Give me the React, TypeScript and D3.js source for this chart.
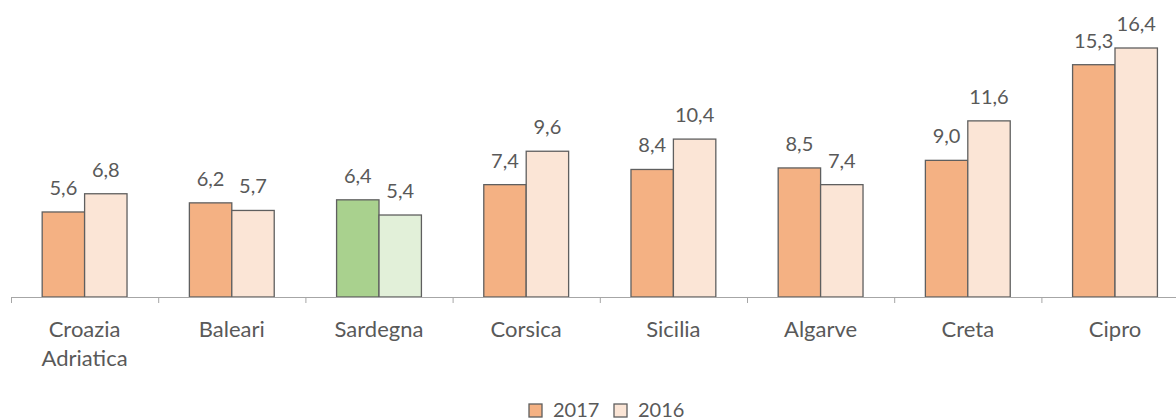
import React from "react";
import * as d3 from "d3";

const categories = ["Croazia\nAdriatica", "Baleari", "Sardegna", "Corsica", "Sicilia", "Algarve", "Creta", "Cipro"];
const series = ["2017", "2016"];
const values2017 = [5.6, 6.2, 6.4, 7.4, 8.4, 8.5, 9.0, 15.3];
const values2016 = [6.8, 5.7, 5.4, 9.6, 10.4, 7.4, 11.6, 16.4];
const highlight = "Sardegna";

const W = 1176;
const H = 420;
const FONT = "Lato, 'Open Sans', sans-serif";
const TEXT = "#595959";
const colors: Record<string, string> = { "2017": "#F4B183", "2016": "#FBE5D6" };
const hlColors: Record<string, string> = { "2017": "#A9D18E", "2016": "#E2F0D9" };

export default function App() {
  const baseY = 297;
  const step = 147.2;
  const x0 = d3.scaleBand<string>().domain(categories).range([11, 11 + step * categories.length]).padding(0);
  const x1 = d3.scaleBand<string>().domain(series).range([0, x0.bandwidth()]).paddingInner(0).paddingOuter(0.735);
  const y = d3.scaleLinear().domain([0, 16.4]).range([baseY, 48]);
  const fmt = (v: number) => v.toFixed(1).replace(".", ",");
  const data = categories.map((c, i) => ({ c, vals: [values2017[i], values2016[i]] }));

  return (
    <svg width={W} height={H} style={{ position: "absolute", left: 0, top: 0, background: "#fff" }} fontFamily={FONT}>
      {data.map((d) => (
        <g key={d.c} transform={`translate(${x0(d.c)},0)`}>
          {series.map((s, j) => {
            const v = d.vals[j];
            const bx = x1(s)!;
            const fill = d.c === highlight ? hlColors[s] : colors[s];
            return (
              <g key={s}>
                <rect x={bx} y={y(v)} width={x1.bandwidth()} height={baseY - y(v)} fill={fill} stroke="#5f5f5f" strokeWidth={1.3} />
                <text x={bx + x1.bandwidth() / 2} y={y(v) - 17} textAnchor="middle" fontSize={20} fill={TEXT}>
                  {fmt(v)}
                </text>
              </g>
            );
          })}
          <text x={x0.bandwidth() / 2} y={337} textAnchor="middle" fontSize={22} fill={TEXT}>
            {d.c.split("\n").map((line, k) => (
              <tspan key={k} x={x0.bandwidth() / 2} dy={k === 0 ? 0 : 29}>
                {line}
              </tspan>
            ))}
          </text>
        </g>
      ))}
      <line x1={11} x2={W} y1={baseY + 0.5} y2={baseY + 0.5} stroke="#a6a6a6" strokeWidth={1} />
      {categories.map((c) => (
        <line key={c} x1={x0(c)! + 0.5} x2={x0(c)! + 0.5} y1={baseY} y2={baseY + 6} stroke="#a6a6a6" strokeWidth={1} />
      ))}
      <g>
        {series.map((s, i) => (
          <g key={s} transform={`translate(${529 + i * 85},404)`}>
            <rect x={0} y={0} width={13} height={13} fill={colors[s]} stroke="#5f5f5f" strokeWidth={1.3} />
            <text x={24} y={13} fontSize={20} fill={TEXT}>{s}</text>
          </g>
        ))}
      </g>
    </svg>
  );
}
